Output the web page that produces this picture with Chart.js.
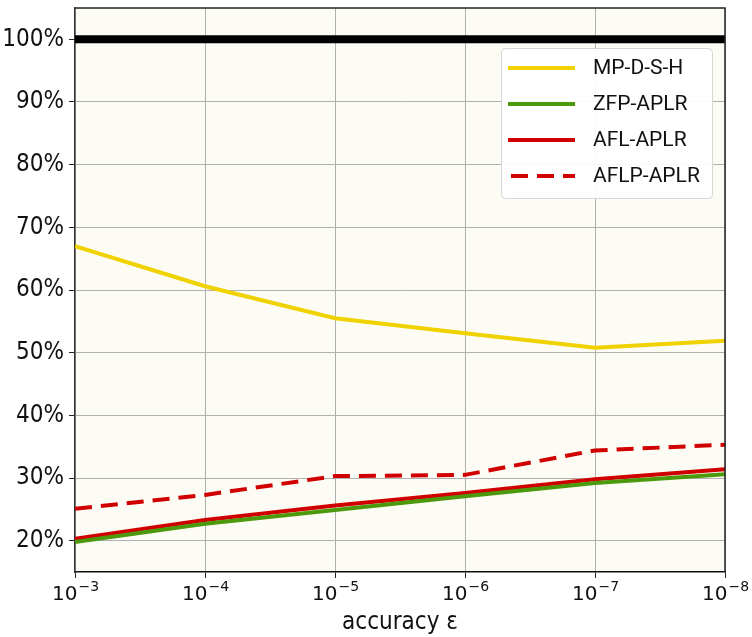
<!DOCTYPE html>
<html>
<head>
<meta charset="utf-8">
<script src="https://cdn.jsdelivr.net/npm/chart.js@4.4.1/dist/chart.umd.min.js"></script>
<style>
  html, body { margin: 0; padding: 0; background: #ffffff; }
  #wrap { width: 752px; height: 637px; position: relative; }
</style>
</head>
<body>
<div id="wrap"><canvas id="accChart"></canvas></div>
<script>
// Data
const exponents = [3, 4, 5, 6, 7, 8];          // accuracy eps = 10^-k
const mpdsh = [67.0, 60.6, 55.5, 53.1, 50.8, 51.9];
const zfpAplr = [19.8, 22.7, 24.9, 27.1, 29.2, 30.6];
const aflAplr = [20.3, 23.3, 25.6, 27.6, 29.8, 31.4];
const aflpAplr = [25.1, 27.3, 30.3, 30.5, 34.4, 35.3];
const reference = [100, 100, 100, 100, 100, 100];
const yTicks = [20, 30, 40, 50, 60, 70, 80, 90, 100];

const pts = vals => vals.map((v, i) => ({ x: exponents[i], y: v }));

const condensed = "'Liberation Sans Narrow', 'DejaVu Sans Condensed', Roboto, sans-serif";

// Cream plot background plus the top/right frame
const plotBg = {
    id: 'plotBg',
    beforeDraw(chart) {
        const { ctx, chartArea: a } = chart;
        ctx.save();
        ctx.fillStyle = '#fcfcf4';
        ctx.fillRect(a.left, a.top, a.right - a.left, a.bottom - a.top);
        ctx.restore();
    },
    afterDatasetsDraw(chart) {
        const { ctx, chartArea: a } = chart;
        ctx.save();
        ctx.strokeStyle = '#222';
        ctx.lineWidth = 1.5;
        ctx.beginPath();
        ctx.moveTo(a.left, a.top);
        ctx.lineTo(a.right, a.top);
        ctx.lineTo(a.right, a.bottom);
        ctx.stroke();
        ctx.restore();
    }
};

// x tick labels as 10 with a raised exponent
const powerTicks = {
    id: 'powerTicks',
    afterDraw(chart) {
        const ctx = chart.ctx;
        const sx = chart.scales.x;
        ctx.save();
        ctx.fillStyle = '#111';
        ctx.textBaseline = 'alphabetic';
        ctx.textAlign = 'left';
        sx.ticks.forEach(t => {
            const base = '10', exp = '−' + t.value;
            ctx.font = "20px 'DejaVu Sans'";
            const wb = ctx.measureText(base).width;
            ctx.font = "14px 'DejaVu Sans'";
            const we = ctx.measureText(exp).width;
            const x0 = sx.getPixelForValue(t.value) - (wb + we) / 2;
            const yb = sx.bottom - 65 + 28;
            ctx.font = "20px 'DejaVu Sans'";
            ctx.fillText(base, x0, yb);
            ctx.font = "14px 'DejaVu Sans'";
            ctx.fillText(exp, x0 + wb + 1, yb - 9);
        });
        ctx.restore();
    }
};

// Legend box drawn inside the plot, upper right
const innerLegend = {
    id: 'innerLegend',
    afterDraw(chart) {
        const ctx = chart.ctx;
        const items = chart.data.datasets.filter(d => d.label);
        const x = 501, y = 48, w = 211, h = 150;
        ctx.save();
        ctx.fillStyle = 'rgba(255,255,255,0.92)';
        ctx.strokeStyle = '#d6d6d6';
        ctx.lineWidth = 1;
        ctx.beginPath();
        ctx.roundRect(x + 0.5, y + 0.5, w, h, 4);
        ctx.fill();
        ctx.stroke();
        ctx.font = "21px Roboto";
        ctx.textBaseline = 'middle';
        items.forEach((d, i) => {
            const ry = y + 20 + i * 36;
            ctx.strokeStyle = d.borderColor;
            ctx.lineWidth = 4;
            ctx.setLineDash(d.borderDash || []);
            ctx.beginPath();
            ctx.moveTo(d.borderDash ? 511 : 508, ry);
            ctx.lineTo(575, ry);
            ctx.stroke();
            ctx.setLineDash([]);
            ctx.fillStyle = '#111';
            ctx.fillText(d.label, 593, ry + 1);
        });
        ctx.restore();
    }
};

const lineStyle = { fill: false, pointRadius: 0, borderWidth: 4, tension: 0 };

new Chart(document.getElementById('accChart'), {
    type: 'line',
    data: {
        datasets: [
            { data: pts(reference), borderColor: '#000000', ...lineStyle, borderWidth: 8 },
            { label: 'MP-D-S-H', data: pts(mpdsh), borderColor: '#efd200', ...lineStyle },
            { label: 'ZFP-APLR', data: pts(zfpAplr), borderColor: '#4c9a0c', ...lineStyle },
            { label: 'AFL-APLR', data: pts(aflAplr), borderColor: '#d00000', ...lineStyle },
            { label: 'AFLP-APLR', data: pts(aflpAplr), borderColor: '#d00000', borderDash: [17, 9], ...lineStyle }
        ]
    },
    options: {
        responsive: true,
        maintainAspectRatio: false,
        animation: false,
        layout: { padding: { top: 8, right: 27, left: 0, bottom: 0 } },
        plugins: { legend: { display: false }, tooltip: { enabled: false } },
        scales: {
            x: {
                type: 'linear',
                min: 3,
                max: 8,
                afterBuildTicks: s => { s.ticks = exponents.map(v => ({ value: v })); },
                afterFit: s => { s.height = 65; s.paddingLeft = 0; s.paddingRight = 0; },
                grid: { color: '#b0b0b0', lineWidth: 1, tickLength: 6, tickColor: '#222' },
                border: { color: '#111', width: 1.5 },
                ticks: {
                    color: '#111',
                    maxRotation: 0,
                    callback: () => ''
                },
                title: {
                    display: true,
                    text: 'accuracy ε',
                    color: '#111',
                    padding: { top: 2, bottom: 0 },
                    font: { family: condensed, size: 24 }
                }
            },
            y: {
                min: 15,
                max: 105,
                afterBuildTicks: s => { s.ticks = yTicks.map(v => ({ value: v })); },
                afterFit: s => { s.width = 75; s.paddingTop = 0; s.paddingBottom = 0; },
                grid: { color: '#b0b0b0', lineWidth: 1, tickLength: 6, tickColor: '#222' },
                border: { color: '#333', width: 1.5 },
                ticks: {
                    color: '#111',
                    padding: 5,
                    font: { family: condensed, size: 24 },
                    callback: v => v + '%'
                }
            }
        }
    },
    plugins: [plotBg, powerTicks, innerLegend]
});
</script>
</body>
</html>
